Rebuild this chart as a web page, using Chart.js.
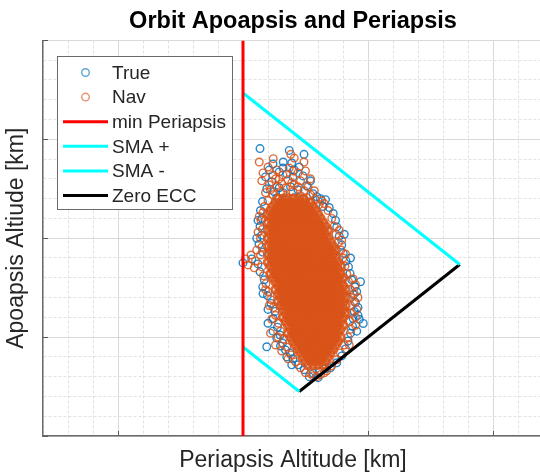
<!DOCTYPE html>
<html>
<head>
<meta charset="utf-8">
<script src="https://cdn.jsdelivr.net/npm/chart.js@4"></script>
<style>
  html, body { margin: 0; padding: 0; background: #fff; overflow: hidden; }
  #wrap { width: 543px; height: 474px; }
</style>
</head>
<body>
<div id="wrap"><canvas id="orbitChart" width="543" height="474"></canvas></div>
<script>
// axis ranges (km units)
const X_RANGE = [-3, 17];
const Y_RANGE = [5, 25];

// limit lines
const minPeriX = [5, 5];
const minPeriY = [5, 25];
const smaPlusX = [5, 13.67];
const smaPlusY = [22.34, 13.67];
const smaMinusX = [5, 7.25];
const smaMinusY = [9.5, 7.25];
const zeroEccX = [7.25, 13.67];
const zeroEccY = [7.25, 13.67];

// Nav estimates, dense part of the cloud: [apoapsis, periapsis values...]
const navRows = [
  [17.0, 6.4,6.6,6.8,7.0,7.2,7.4],
  [16.8, 6.3,6.5,6.7,6.9,7.1,7.3,7.5,7.7],
  [16.6, 6.2,6.4,6.6,6.8,7.0,7.2,7.4,7.6,7.8],
  [16.4, 6.1,6.3,6.5,6.7,6.9,7.1,7.3,7.5,7.7,7.9],
  [16.2, 6.0,6.2,6.4,6.6,6.8,7.0,7.2,7.4,7.6,7.8,8.0],
  [16.0, 6.1,6.3,6.5,6.7,6.9,7.1,7.3,7.5,7.7,7.9,8.1],
  [15.8, 6.0,6.2,6.4,6.6,6.8,7.0,7.2,7.4,7.6,7.8,8.0,8.2],
  [15.6, 6.1,6.3,6.5,6.7,6.9,7.1,7.3,7.5,7.7,7.9,8.1,8.3],
  [15.4, 6.0,6.2,6.4,6.6,6.8,7.0,7.2,7.4,7.6,7.8,8.0,8.2,8.4],
  [15.2, 6.1,6.3,6.5,6.7,6.9,7.1,7.3,7.5,7.7,7.9,8.1,8.3],
  [15.0, 6.0,6.2,6.4,6.6,6.8,7.0,7.2,7.4,7.6,7.8,8.0,8.2,8.4],
  [14.8, 6.1,6.3,6.5,6.7,6.9,7.1,7.3,7.5,7.7,7.9,8.1,8.3,8.5],
  [14.6, 6.0,6.2,6.4,6.6,6.8,7.0,7.2,7.4,7.6,7.8,8.0,8.2,8.4,8.6],
  [14.4, 6.1,6.3,6.5,6.7,6.9,7.1,7.3,7.5,7.7,7.9,8.1,8.3,8.5,8.7],
  [14.2, 6.0,6.2,6.4,6.6,6.8,7.0,7.2,7.4,7.6,7.8,8.0,8.2,8.4,8.6],
  [14.0, 6.1,6.3,6.5,6.7,6.9,7.1,7.3,7.5,7.7,7.9,8.1,8.3,8.5,8.7],
  [13.8, 6.0,6.2,6.4,6.6,6.8,7.0,7.2,7.4,7.6,7.8,8.0,8.2,8.4,8.6,8.8],
  [13.6, 6.1,6.3,6.5,6.7,6.9,7.1,7.3,7.5,7.7,7.9,8.1,8.3,8.5,8.7,8.9],
  [13.4, 6.2,6.4,6.6,6.8,7.0,7.2,7.4,7.6,7.8,8.0,8.2,8.4,8.6,8.8],
  [13.2, 6.1,6.3,6.5,6.7,6.9,7.1,7.3,7.5,7.7,7.9,8.1,8.3,8.5,8.7,8.9],
  [13.0, 6.2,6.4,6.6,6.8,7.0,7.2,7.4,7.6,7.8,8.0,8.2,8.4,8.6,8.8,9.0],
  [12.8, 6.3,6.5,6.7,6.9,7.1,7.3,7.5,7.7,7.9,8.1,8.3,8.5,8.7,8.9],
  [12.6, 6.4,6.6,6.8,7.0,7.2,7.4,7.6,7.8,8.0,8.2,8.4,8.6,8.8,9.0],
  [12.4, 6.3,6.5,6.7,6.9,7.1,7.3,7.5,7.7,7.9,8.1,8.3,8.5,8.7,8.9,9.1],
  [12.2, 6.4,6.6,6.8,7.0,7.2,7.4,7.6,7.8,8.0,8.2,8.4,8.6,8.8,9.0],
  [12.0, 6.5,6.7,6.9,7.1,7.3,7.5,7.7,7.9,8.1,8.3,8.5,8.7,8.9,9.1],
  [11.8, 6.4,6.6,6.8,7.0,7.2,7.4,7.6,7.8,8.0,8.2,8.4,8.6,8.8,9.0],
  [11.6, 6.5,6.7,6.9,7.1,7.3,7.5,7.7,7.9,8.1,8.3,8.5,8.7,8.9,9.1],
  [11.4, 6.6,6.8,7.0,7.2,7.4,7.6,7.8,8.0,8.2,8.4,8.6,8.8,9.0],
  [11.2, 6.7,6.9,7.1,7.3,7.5,7.7,7.9,8.1,8.3,8.5,8.7,8.9,9.1],
  [11.0, 6.6,6.8,7.0,7.2,7.4,7.6,7.8,8.0,8.2,8.4,8.6,8.8,9.0],
  [10.8, 6.7,6.9,7.1,7.3,7.5,7.7,7.9,8.1,8.3,8.5,8.7,8.9],
  [10.6, 6.8,7.0,7.2,7.4,7.6,7.8,8.0,8.2,8.4,8.6,8.8,9.0],
  [10.4, 6.9,7.1,7.3,7.5,7.7,7.9,8.1,8.3,8.5,8.7,8.9],
  [10.2, 6.8,7.0,7.2,7.4,7.6,7.8,8.0,8.2,8.4,8.6,8.8],
  [10.0, 6.9,7.1,7.3,7.5,7.7,7.9,8.1,8.3,8.5,8.7,8.9],
  [9.8, 7.0,7.2,7.4,7.6,7.8,8.0,8.2,8.4,8.6,8.8],
  [9.6, 7.1,7.3,7.5,7.7,7.9,8.1,8.3,8.5,8.7],
  [9.4, 7.2,7.4,7.6,7.8,8.0,8.2,8.4,8.6],
  [9.2, 7.3,7.5,7.7,7.9,8.1,8.3,8.5],
  [9.0, 7.4,7.6,7.8,8.0,8.2,8.4],
  [8.8, 7.5,7.7,7.9,8.1,8.3],
  [8.6, 7.6,7.8,8.0,8.2]
];

// Nav estimates, sparse edge and outliers: [periapsis, apoapsis]
const navEdge = [
  [5.65,18.85],[6.21,19.02],[6.91,19.24],[7.05,19.05],[7.44,18.85],
  [5.8,18.3],[6.0,18.6],[6.35,18.45],[6.6,18.2],[6.85,18.55],[7.2,18.3],[7.5,18.4],
  [5.75,17.9],[6.05,17.7],[6.3,18.0],[6.55,17.75],[6.8,17.95],[7.05,17.7],[7.3,17.9],[7.6,17.6],[7.85,17.4],
  [5.9,17.3],[6.2,17.2],[6.5,17.35],[6.75,17.1],[7.0,17.35],[7.3,17.15],[7.55,17.05],[7.9,16.95],[6.0,16.9],[5.85,16.6],[8.05,16.7],
  [6.1,17.45],[6.35,17.6],[6.7,17.55],[6.95,17.8],[7.2,17.6],[7.45,17.4],[7.7,17.2],[6.45,18.0],[6.2,18.2],[7.0,18.4],[7.7,18.0],[8.15,16.9],
  [5.8,16.3],[5.72,15.9],[5.78,15.45],[5.7,15.0],[5.76,14.55],[5.7,14.15],[5.1,13.95],[5.32,14.15],[5.5,13.85],
  [5.2,13.65],[5.45,13.5],[5.75,13.55],[5.82,13.1],[5.92,12.7],[6.0,12.3],[6.1,11.9],[6.22,11.5],[6.3,11.1],
  [6.42,10.7],[6.5,10.3],[6.62,9.9],[6.75,9.5],[6.92,9.1],[7.1,8.75],[7.3,8.45],[7.5,8.2],[7.8,8.05],[8.1,8.1],
  [8.35,8.3],[6.1,10.2],[6.3,9.6],
  [5.65,16.1],[5.6,15.3],[5.9,12.4],[6.05,11.6],[6.15,10.9],[6.4,10.0],[6.55,9.3],[6.8,8.9],[5.55,14.4],
  [7.7,8.15],[7.95,8.0],[8.25,8.2],
  [8.25,16.75],[8.4,16.4],[8.55,16.0],[8.65,15.6],[8.72,15.2],[8.82,14.8],[8.92,14.4],[9.0,14.0],[9.08,13.6],
  [9.15,13.2],[9.22,12.8],[9.3,12.4],[9.32,12.0],[9.3,11.6],[9.34,11.2],[9.28,10.8],[9.32,10.4],[9.2,10.0],
  [9.55,11.4],[9.5,12.65],[9.5,11.0],[9.05,9.6],[8.9,9.2],[8.75,8.85],[8.55,8.55],[9.45,12.2],
  [9.4,12.95],[9.45,11.8],[9.5,10.6],[9.25,9.6],[9.6,12.0],[9.1,14.2],[8.95,14.9],[8.85,15.4]
];

// True values: [periapsis, apoapsis]
const truePoints = [
  [5.68,19.53],[6.85,19.44],[7.44,19.24],[6.61,18.85],[6.95,18.8],[6.2,18.75],[7.25,18.6],[6.45,18.35],
  [5.9,18.1],[6.75,18.25],[7.0,18.1],[7.4,18.15],[7.7,17.9],[6.15,17.85],[6.45,17.55],[6.9,17.6],
  [7.2,17.45],[7.8,17.25],[8.1,17.0],[5.95,17.5],[6.35,17.05],[6.7,16.95],[7.7,16.8],[8.2,16.6],
  [6.05,18.45],[6.6,18.55],[7.05,18.45],[7.55,17.65],[6.25,17.35],[6.6,17.3],[7.05,17.05],[7.4,16.95],[7.95,17.1],
  [5.78,16.85],[5.7,16.4],[5.76,16.0],[5.68,15.6],[5.75,15.15],[5.64,14.7],[5.78,14.3],[5.0,13.75],
  [5.35,13.95],[5.6,13.7],[5.68,13.3],[5.85,12.9],[5.79,12.54],[5.98,12.1],[6.12,11.7],[6.21,10.94],
  [6.28,11.3],[6.38,10.5],[6.48,10.1],[6.58,9.7],[6.88,9.19],[5.95,9.51],[6.7,9.35],[7.0,8.9],
  [7.2,8.6],[7.81,8.17],[7.45,8.35],[8.05,8.25],[6.35,9.95],[6.0,10.7],
  [5.6,15.9],[5.55,15.0],[5.8,12.2],[6.0,11.4],[6.2,10.3],[6.5,9.55],[6.75,9.0],[6.95,8.6],
  [7.65,8.0],[8.3,8.4],[8.0,7.95],
  [8.3,16.95],[8.45,16.55],[8.61,16.25],[8.7,15.9],[8.75,15.57],[8.85,15.1],[8.95,14.65],[9.01,14.23],
  [9.12,13.85],[9.28,13.22],[9.22,13.55],[9.35,12.9],[9.48,12.54],[9.42,12.15],[9.5,11.75],[9.45,11.3],
  [9.4,10.95],[9.81,10.69],[9.38,10.55],[9.3,10.2],[9.2,9.8],[9.1,9.4],[8.95,9.05],[8.75,8.7],[8.5,8.45],[9.6,11.1],
  [9.55,12.3],[9.6,11.5],[9.55,10.3],[9.7,12.8],[9.3,14.0],[9.05,15.2],[9.65,10.9],
  [6.3,15.5],[7.0,15.0],[7.5,14.0],[7.2,13.0],[8.0,12.0],[7.6,11.0],[7.9,10.0],[6.6,14.5],[8.2,13.5],
  [6.8,12.2],[8.5,11.2],[7.4,9.4],[6.2,14.0],[8.6,14.2],[8.8,12.6],[6.5,11.6],[7.0,16.3],[7.8,15.6]
];

const BLUE = 'rgba(0,114,189,0.85)';
const ORANGE = 'rgba(217,83,25,0.85)';
const FONT = 'Liberation Sans, Arial, Helvetica, sans-serif';

const toXY = (xs, ys) => xs.map((x, i) => ({x: x, y: ys[i]}));

const navData = [];
navRows.forEach(r => {
  for (let i = 1; i < r.length; i++) navData.push({x: r[i], y: r[0]});
});
const coreCount = navData.length;
navEdge.forEach(p => navData.push({x: p[0], y: p[1]}));
const trueData = truePoints.map(p => ({x: p[0], y: p[1]}));

const isMajor = v => Math.abs(v % 5) < 1e-6;

function gridOpts() {
  return {
    color: c => (c.tick && isMajor(c.tick.value)) ? '#d9d9d9' : '#e2e2e2',
    lineWidth: 1,
    drawTicks: true,
    tickLength: -5,
    tickColor: c => (c.tick && isMajor(c.tick.value)) ? '#555555' : 'rgba(0,0,0,0)',
    tickWidth: 1
  };
}
function borderOpts() {
  return {
    display: true,
    color: '#6a6a6a',
    width: 1.5,
    dash: c => (c.tick && !isMajor(c.tick.value)) ? [3, 2] : []
  };
}

function lineSet(label, xs, ys, color) {
  return {
    label: label,
    data: toXY(xs, ys),
    showLine: true,
    borderColor: color,
    backgroundColor: color,
    borderWidth: 3,
    pointRadius: 0,
    fill: false,
    order: 1
  };
}

// legend drawn like the MATLAB box in the top left corner
const boxLegend = {
  id: 'boxLegend',
  afterDraw(chart) {
    const ctx = chart.ctx;
    const L = 57.5, T = 56.5, W = 175, H = 153;
    ctx.save();
    ctx.fillStyle = '#ffffff';
    ctx.fillRect(L, T, W, H);
    ctx.strokeStyle = '#6a6a6a';
    ctx.lineWidth = 1;
    ctx.strokeRect(L, T, W, H);
    ctx.font = '19px ' + FONT;
    ctx.textBaseline = 'middle';
    chart.data.datasets.forEach((ds, i) => {
      const y = 72.5 + i * 24.6;
      if (ds.showLine) {
        ctx.strokeStyle = ds.borderColor;
        ctx.lineWidth = 3;
        ctx.beginPath();
        ctx.moveTo(63, y);
        ctx.lineTo(108, y);
        ctx.stroke();
      } else {
        ctx.strokeStyle = ds.borderColor;
        ctx.globalAlpha = 0.75;
        ctx.lineWidth = 1.4;
        ctx.beginPath();
        ctx.arc(85.5, y, 3.8, 0, Math.PI * 2);
        ctx.stroke();
        ctx.globalAlpha = 1;
      }
      ctx.fillStyle = '#262626';
      ctx.fillText(ds.label, 112, y + 1);
    });
    ctx.restore();
  }
};

new Chart(document.getElementById('orbitChart'), {
  type: 'scatter',
  data: {
    datasets: [
      {
        label: 'True', data: trueData, showLine: false,
        borderColor: BLUE, backgroundColor: 'rgba(0,0,0,0)',
        pointRadius: 3.8, pointBorderWidth: 1.4, order: 3
      },
      {
        label: 'Nav', data: navData, showLine: false,
        borderColor: ORANGE, backgroundColor: 'rgba(0,0,0,0)',
        pointRadius: 3.8,
        pointBorderWidth: c => c.dataIndex < coreCount ? 2.8 : 1.4,
        order: 2
      },
      lineSet('min Periapsis', minPeriX, minPeriY, '#ff0000'),
      lineSet('SMA +', smaPlusX, smaPlusY, '#00ffff'),
      lineSet('SMA -', smaMinusX, smaMinusY, '#00ffff'),
      lineSet('Zero ECC', zeroEccX, zeroEccY, '#000000')
    ]
  },
  options: {
    responsive: false,
    animation: false,
    layout: { padding: 0, autoPadding: false },
    scales: {
      x: {
        type: 'linear',
        min: X_RANGE[0],
        max: X_RANGE[1],
        ticks: { stepSize: 1, display: false, autoSkip: false },
        grid: gridOpts(),
        border: borderOpts(),
        title: {
          display: true,
          text: 'Periapsis Altitude [km]',
          color: '#262626',
          font: { family: FONT, size: 23, lineHeight: 1 },
          padding: { top: 0, bottom: 1.5 }
        },
        afterFit: s => { s.height = 38; }
      },
      y: {
        type: 'linear',
        min: Y_RANGE[0],
        max: Y_RANGE[1],
        ticks: { stepSize: 1, display: false, autoSkip: false },
        grid: gridOpts(),
        border: borderOpts(),
        title: {
          display: true,
          text: 'Apoapsis Altiude [km]',
          color: '#262626',
          font: { family: FONT, size: 23, lineHeight: 1 },
          padding: { top: 5.5, bottom: 0 }
        },
        afterFit: s => { s.width = 43; }
      }
    },
    plugins: {
      legend: { display: false },
      tooltip: { enabled: false },
      title: {
        display: true,
        fullSize: false,
        text: 'Orbit Apoapsis and Periapsis',
        color: '#000000',
        font: { family: FONT, size: 23.5, weight: 'bold', lineHeight: 1.2 },
        padding: { top: 7, bottom: 5.2 }
      }
    }
  },
  plugins: [boxLegend]
});
</script>
</body>
</html>
